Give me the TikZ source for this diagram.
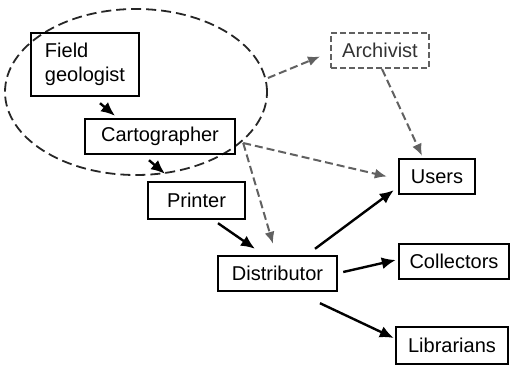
\documentclass[tikz,border=0pt]{standalone}
\usepackage{fontspec}
\setmainfont{Liberation Sans}
\usetikzlibrary{arrows.meta,shapes.geometric}
\begin{document}
\begin{tikzpicture}[x=1pt,y=-1pt,
  role/.style={draw=black, line width=2.4pt, font=\fontsize{20}{24}\selectfont,
    inner sep=0pt, minimum height=35pt},
  flow/.style={line width=2.4pt, -{Latex[length=14pt,width=12pt]}},
  link/.style={draw=black!62, line width=2pt, dash pattern=on 8pt off 4pt,
    -{Latex[length=12pt,width=10pt]}},
]
\useasboundingbox (0,0) rectangle (511,366);

% the group around the field geologist and the cartographer
\node[draw=black!85, line width=1.8pt, dash pattern=on 10pt off 5pt, ellipse,
  minimum width=262pt, minimum height=166pt, inner sep=0pt] (team) at (136,92) {};

% roles
\node[role, minimum width=108pt, minimum height=63pt, align=left] (geo) at (85,64.5) {Field\\geologist};
\node[role, minimum width=150pt] (carto) at (160,136.5) {Cartographer};
\node[role, minimum width=97pt, minimum height=37pt] (printer) at (196.5,200.5) {Printer};
\node[role, minimum width=119pt] (dist) at (277.5,273.5) {Distributor};
\node[role, minimum width=76pt] (users) at (437,176.5) {Users};
\node[role, minimum width=110pt] (coll) at (454,261.5) {Collectors};
\node[role, minimum width=112pt, minimum height=37pt] (lib) at (452,345.5) {Librarians};
\node[role, draw=black!62, line width=2pt, dash pattern=on 6pt off 3pt,
  minimum width=98pt, text=black!80] (arch) at (380,50.5) {Archivist};

% solid flow of the map
\draw[flow] ([xshift=15pt,yshift=-6pt]geo.south) -- ([xshift=-45pt,yshift=2pt]carto.north);
\draw[flow] ([xshift=-11pt,yshift=-5pt]carto.south) -- ([xshift=-31.5pt,yshift=7pt]printer.north);
\draw[flow] ([xshift=21.5pt,yshift=-3pt]printer.south) -- ([xshift=-22.5pt,yshift=6pt]dist.north);
\draw[flow] ([xshift=37.5pt,yshift=6pt]dist.north) -- ([xshift=-4pt,yshift=5pt]users.south west);
\draw[flow] ([xshift=5pt,yshift=1.5pt]dist.east) -- ([xshift=-2pt,yshift=1.5pt]coll.west);
\draw[flow] ([xshift=42.5pt,yshift=-11pt]dist.south) -- ([xshift=-1pt,yshift=7.5pt]lib.west);

% dashed links
\coordinate (fork) at ([xshift=7pt,yshift=-6.5pt]carto.east);
\draw[link] ([yshift=14pt]team.east) -- ([xshift=-10pt,yshift=-6pt]arch.west);
\draw[link] ([xshift=2pt]arch.south) -- ([xshift=-15pt,yshift=2pt]users.north);
\draw[link] (fork) -- ([xshift=-11pt]users.west);
\draw[link] (fork) -- ([xshift=-4.5pt,yshift=11pt]dist.north);
\end{tikzpicture}
\end{document}
